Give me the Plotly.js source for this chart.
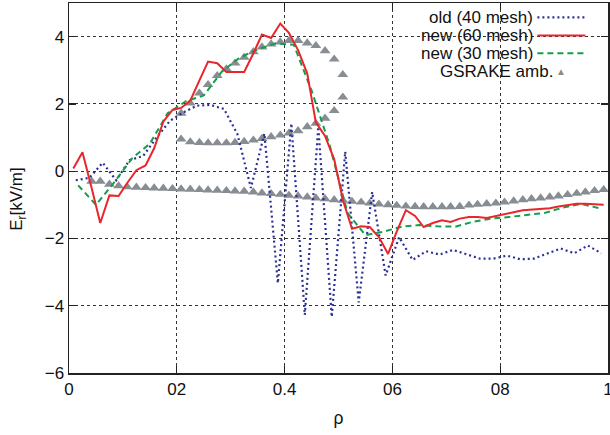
<!DOCTYPE html>
<html>
<head>
<meta charset="utf-8">
<script src="https://cdn.plot.ly/plotly-3.0.1.min.js"></script>
<style>html,body{margin:0;padding:0;background:#fff;}#chart{width:610px;height:435px;}</style>
</head>
<body>
<div id="chart"></div>
<script>
// old (40 mesh)
const oldX = [0.0125,0.0375,0.0625,0.0875,0.1125,0.1375,0.1625,0.1875,0.2125,0.2375,0.2625,0.2875,0.3125,0.3375,0.3625,0.3875,0.4125,0.4375,0.4625,0.4875,0.5125,0.5375,0.5625,0.5875,0.6125,0.6375,0.6625,0.6875,0.7125,0.7375,0.7625,0.7875,0.8125,0.8375,0.8625,0.8875,0.9125,0.9375,0.9625,0.9875];
const oldY = [-0.27,-0.2,0.25,-0.27,0.33,0.45,1.0,1.5,1.75,1.95,1.97,1.85,1.1,-0.5,1.12,-3.33,1.42,-4.27,1.32,-4.33,0.58,-3.9,-0.62,-3.1,-1.96,-2.64,-2.38,-2.48,-2.34,-2.47,-2.6,-2.6,-2.51,-2.62,-2.6,-2.45,-2.3,-2.44,-2.21,-2.44];
// new (60 mesh)
const new60X = [0.008,0.025,0.042,0.058,0.075,0.092,0.108,0.125,0.142,0.158,0.175,0.192,0.208,0.225,0.242,0.258,0.275,0.292,0.308,0.325,0.342,0.358,0.375,0.392,0.408,0.425,0.442,0.458,0.475,0.492,0.508,0.525,0.542,0.558,0.575,0.592,0.608,0.625,0.642,0.658,0.675,0.692,0.708,0.725,0.742,0.758,0.775,0.792,0.808,0.825,0.842,0.858,0.875,0.892,0.908,0.925,0.942,0.958,0.975,0.992];
const new60Y = [0.08,0.56,-0.5,-1.54,-0.72,-0.74,-0.35,0.03,0.17,0.68,1.47,1.82,1.88,2.1,2.7,3.26,3.21,2.95,2.95,2.95,3.5,4.06,3.96,4.39,4.11,3.6,2.9,1.45,1.05,0.35,-0.85,-1.71,-1.64,-1.66,-1.96,-2.46,-1.8,-1.16,-1.33,-1.66,-1.54,-1.46,-1.51,-1.41,-1.36,-1.36,-1.39,-1.34,-1.28,-1.22,-1.16,-1.14,-1.12,-1.1,-1.05,-1.0,-0.97,-0.97,-0.98,-1.0];
// new (30 mesh)
const new30X = [0.017,0.05,0.083,0.117,0.15,0.183,0.217,0.25,0.283,0.317,0.35,0.383,0.417,0.45,0.483,0.517,0.55,0.583,0.617,0.65,0.683,0.717,0.75,0.783,0.817,0.85,0.883,0.917,0.95,0.983];
const new30Y = [-0.42,-1.0,-0.35,0.38,0.82,1.72,2.08,2.25,2.95,3.38,3.62,3.8,3.76,2.4,0.8,-1.25,-1.9,-1.8,-1.65,-1.6,-1.64,-1.65,-1.5,-1.41,-1.36,-1.31,-1.24,-1.08,-0.97,-1.1];
// GSRAKE ambipolar roots: lower branch
const gsLowX = [0.042,0.058,0.075,0.092,0.108,0.125,0.142,0.158,0.175,0.192,0.208,0.225,0.242,0.258,0.275,0.292,0.308,0.325,0.342,0.358,0.375,0.392,0.408,0.425,0.442,0.458,0.475,0.492,0.508,0.525,0.542,0.558,0.575,0.592,0.608,0.625,0.642,0.658,0.675,0.692,0.708,0.725,0.742,0.758,0.775,0.792,0.808,0.825,0.842,0.858,0.875,0.892,0.908,0.925,0.942,0.958,0.975,0.992];
const gsLowY = [-0.3,-0.3,-0.39,-0.44,-0.47,-0.48,-0.49,-0.5,-0.51,-0.52,-0.53,-0.54,-0.55,-0.56,-0.57,-0.58,-0.59,-0.6,-0.62,-0.65,-0.67,-0.69,-0.72,-0.74,-0.77,-0.8,-0.82,-0.85,-0.87,-0.9,-0.92,-0.95,-0.98,-1.0,-1.02,-1.04,-1.05,-1.06,-1.06,-1.06,-1.06,-1.05,-1.01,-0.99,-0.97,-0.95,-0.92,-0.89,-0.85,-0.82,-0.8,-0.77,-0.74,-0.7,-0.66,-0.62,-0.58,-0.55];
// upper and middle branches
const gsUpX = [0.208,0.225,0.242,0.258,0.275,0.292,0.308,0.325,0.342,0.358,0.375,0.392,0.408,0.425,0.442,0.458,0.475,0.492,0.508];
const gsUpY = [1.72,2.02,2.32,2.57,2.84,3.04,3.21,3.38,3.55,3.69,3.78,3.84,3.88,3.88,3.81,3.73,3.58,3.33,2.87];
const gsMidX = [0.208,0.225,0.242,0.258,0.275,0.292,0.308,0.325,0.342,0.358,0.375,0.392,0.408,0.425,0.442,0.458,0.475,0.492,0.508];
const gsMidY = [0.95,0.87,0.85,0.84,0.84,0.84,0.85,0.88,0.92,0.97,1.02,1.07,1.13,1.2,1.32,1.42,1.57,1.8,2.2];

const xTickVals = [0,0.2,0.4,0.6,0.8,1];
const xTickText = ["0","02","0.4","06","08","1"];
const yTickVals = [-6,-4,-2,0,2,4];
const legendNames = ["old (40 mesh)","new (60 mesh)","new (30 mesh)","GSRAKE amb."];

const cBlue = '#2b3193', cRed = '#e8262b', cGreen = '#11a04a', cGray = '#878d92';
const font = 'Liberation Sans, Arial, Helvetica, sans-serif';

const gsX = gsLowX.concat(gsMidX, gsUpX);
const gsY = gsLowY.concat(gsMidY, gsUpY);

const traces = [
  {x: gsX, y: gsY, type: 'scatter', mode: 'markers', name: legendNames[3],
   marker: {symbol: 'triangle-up', size: 9.5, color: cGray}},
  {x: oldX, y: oldY, type: 'scatter', mode: 'lines', name: legendNames[0],
   line: {color: cBlue, width: 2.2, dash: '2px,3px'}},
  {x: new30X, y: new30Y, type: 'scatter', mode: 'lines', name: legendNames[2],
   line: {color: cGreen, width: 2, dash: '6px,4px'}},
  {x: new60X, y: new60Y, type: 'scatter', mode: 'lines', name: legendNames[1],
   line: {color: cRed, width: 2}}
];

// legend rows (paper coordinates)
const rowY = [0.961, 0.912, 0.864, 0.816];
const textRight = [0.862, 0.862, 0.862, 0.899];
const shapes = [
  {type: 'rect', xref: 'paper', yref: 'paper', x0: 0.592, x1: 0.99, y0: 0.792, y1: 0.995,
   fillcolor: '#ffffff', line: {width: 0}, layer: 'between'}
];
const sampleStyles = [
  {color: cBlue, width: 2.2, dash: '2px,3px'},
  {color: cRed, width: 2},
  {color: cGreen, width: 2, dash: '6px,4px'}
];
for (let i = 0; i < 3; i++) {
  shapes.push({type: 'line', xref: 'paper', yref: 'paper', x0: 0.869, x1: 0.958,
    y0: rowY[i], y1: rowY[i], line: sampleStyles[i]});
}
const annotations = legendNames.map((n, i) => ({
  xref: 'paper', yref: 'paper', x: textRight[i], y: rowY[i], xanchor: 'right', yanchor: 'middle',
  text: n, showarrow: false, height: 17, borderpad: 0,
  font: {family: font, size: 17, color: '#111'}
}));
annotations.push({xref: 'paper', yref: 'paper', x: 0.913, y: rowY[3], xanchor: 'center', yanchor: 'middle',
  text: '▲', showarrow: false, height: 12, borderpad: 0, font: {family: font, size: 10, color: cGray}});
// y-axis title
annotations.push({xref: 'paper', yref: 'paper', x: -0.0946, y: 0.468, xanchor: 'center', yanchor: 'middle',
  textangle: -90, text: 'E<sub>r</sub>[kV/m]', showarrow: false,
  font: {family: font, size: 17, color: '#111'}});

const axisCommon = {
  showline: true, linecolor: '#222', linewidth: 1.5, mirror: 'ticks',
  ticks: 'inside', ticklen: 7, tickwidth: 1.2, tickcolor: '#222',
  showgrid: true, gridcolor: '#333', gridwidth: 1, griddash: 'dot',
  zeroline: false, ticklabeloverflow: 'allow',
  tickfont: {family: font, size: 17, color: '#111'}
};

const layout = {
  width: 610, height: 435,
  margin: {l: 69, r: 2, t: 3, b: 62},
  paper_bgcolor: '#fff', plot_bgcolor: '#fff',
  showlegend: false,
  xaxis: Object.assign({}, axisCommon, {
    range: [0, 1], tickmode: 'array', tickvals: xTickVals, ticktext: xTickText,
    title: {text: 'ρ', font: {family: font, size: 17.5, color: '#111'}, standoff: 14}
  }),
  yaxis: Object.assign({}, axisCommon, {
    range: [-6, 5], tickmode: 'array', tickvals: yTickVals
  }),
  shapes: shapes,
  annotations: annotations
};

Plotly.newPlot('chart', traces, layout, {displayModeBar: false, staticPlot: true});
</script>
</body>
</html>
